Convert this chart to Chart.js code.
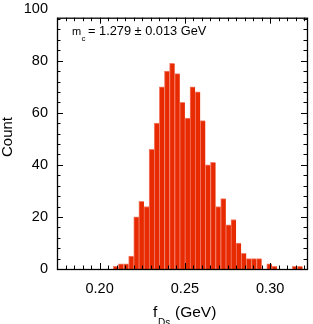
<!DOCTYPE html>
<html>
<head>
<meta charset="utf-8">
<script src="https://cdn.jsdelivr.net/npm/chart.js@4/dist/chart.umd.min.js"></script>
<style>
  html, body { margin: 0; padding: 0; background: #fff; }
  #chart { display: block; }
</style>
</head>
<body>
<canvas id="chart" width="313" height="324"></canvas>
<script>
// ═══════════════════════════════════════════════
//  DATA — histogram of f_Ds (1000 entries)
// ═══════════════════════════════════════════════

const BIN_CENTERS = [
  0.2095, 0.2125, 0.2155, 0.2185, 0.2215, 0.2245, 0.2275, 0.2305, 0.2335, 0.2365,
  0.2395, 0.2425, 0.2455, 0.2485, 0.2515, 0.2545, 0.2575, 0.2605, 0.2635, 0.2665,
  0.2695, 0.2725, 0.2755, 0.2785, 0.2815, 0.2845, 0.2875, 0.2905, 0.2935, 0.2965,
  0.2995, 0.3025, 0.3055, 0.3085, 0.3115, 0.3145, 0.3175
];

const COUNTS = [
  1, 2, 2, 5, 20, 26, 24, 46, 56, 70,
  76, 79, 75, 64, 58, 70, 68, 57, 40, 41,
  24, 27, 17, 19, 10, 6, 4, 4, 4, 0,
  2, 1, 0, 0, 0, 1, 1
];

const X_TICKS = [0.20, 0.25, 0.30];
const Y_TICKS = [0, 20, 40, 60, 80, 100];

const FIT_MASS  = '1.279';
const FIT_ERROR = '0.013';

// ═══════════════════════════════════════════════
//  PLUGINS — frame, inward ticks, labels
// ═══════════════════════════════════════════════

const FONT = '"Liberation Sans", Arial, Helvetica, sans-serif';

const frameTicks = {
  id: 'frameTicks',
  afterDatasetsDraw(chart) {
    const { ctx, chartArea: a, scales: { x, y } } = chart;
    ctx.save();
    ctx.strokeStyle = '#000';
    ctx.lineWidth = 1;
    ctx.beginPath();
    // x: minor every 0.005, major every 0.05
    for (let i = 35; i / 200 <= x.max + 1e-9; i++) {
      const px = Math.round(x.getPixelForValue(i / 200)) + 0.5;
      const len = i % 10 === 0 ? 6 : 3.5;
      ctx.moveTo(px, a.bottom); ctx.lineTo(px, a.bottom - len);
      ctx.moveTo(px, a.top);    ctx.lineTo(px, a.top + len);
    }
    // y: minor every 4, major every 20
    for (let j = 0; j * 4 <= y.max; j++) {
      const py = Math.round(y.getPixelForValue(j * 4)) + 0.5;
      const len = j % 5 === 0 ? 6 : 3.5;
      ctx.moveTo(a.left, py);  ctx.lineTo(a.left + len, py);
      ctx.moveTo(a.right, py); ctx.lineTo(a.right - len, py);
    }
    ctx.stroke();
    ctx.lineWidth = 1.3;
    ctx.strokeRect(a.left + 0.5, a.top + 0.5, a.right - a.left, a.bottom - a.top);
    ctx.restore();
  }
};

const textLabels = {
  id: 'textLabels',
  afterDraw(chart) {
    const { ctx } = chart;
    ctx.save();
    ctx.fillStyle = '#000';
    ctx.textBaseline = 'alphabetic';
    ctx.textAlign = 'left';

    // y title
    ctx.save();
    ctx.translate(12, 137);
    ctx.rotate(-Math.PI / 2);
    ctx.textAlign = 'center';
    ctx.font = `15px ${FONT}`;
    ctx.fillText('Count', 0, 0);
    ctx.restore();

    // x title: f_Ds (GeV)
    ctx.font = `15.5px ${FONT}`;
    ctx.fillText('f', 153, 316.5);
    ctx.font = `10px ${FONT}`;
    ctx.fillText('Ds', 158, 325.5);
    ctx.font = `15.5px ${FONT}`;
    ctx.fillText('(GeV)', 175, 316.5);

    // fit result
    ctx.font = `11px ${FONT}`;
    ctx.fillText('m', 72, 35);
    ctx.font = `8px ${FONT}`;
    ctx.fillText('c', 81.5, 40.5);
    ctx.font = `12.8px ${FONT}`;
    ctx.fillText(`= ${FIT_MASS} \u00b1 ${FIT_ERROR} GeV`, 88, 35);
    ctx.restore();
  }
};

// ═══════════════════════════════════════════════
//  CHART
// ═══════════════════════════════════════════════

new Chart(document.getElementById('chart'), {
  type: 'bar',
  data: {
    datasets: [{
      data: BIN_CENTERS.map((x, i) => ({ x, y: COUNTS[i] })),
      backgroundColor: '#e82a00',
      borderColor: 'rgba(240,105,80,0.85)',
      borderWidth: { top: 1, left: 1, right: 0, bottom: 0 },
      borderSkipped: false,
      barPercentage: 1,
      categoryPercentage: 1,
    }]
  },
  options: {
    responsive: false,
    animation: false,
    events: [],
    layout: { padding: { top: 15, right: 6, left: 0, bottom: 0 } },
    plugins: { legend: { display: false }, tooltip: { enabled: false } },
    scales: {
      x: {
        type: 'linear',
        min: 0.175,
        max: 0.3216,
        offset: false,
        afterFit: (s) => { s.height = 55; },
        afterBuildTicks: (s) => { s.ticks = X_TICKS.map(v => ({ value: v })); },
        grid: { display: false, drawTicks: false },
        border: { display: false },
        ticks: {
          color: '#000',
          font: { family: FONT, size: 14.5 },
          padding: 11,
          maxRotation: 0,
          autoSkip: false,
          callback: (v) => v.toFixed(2)
        }
      },
      y: {
        min: 0,
        max: 96.5,
        afterFit: (s) => { s.width = 57; },
        afterBuildTicks: (s) => { s.ticks = Y_TICKS.map(v => ({ value: v })); },
        grid: { display: false, drawTicks: false },
        border: { display: false },
        ticks: {
          color: '#000',
          font: { family: FONT, size: 14.5 },
          padding: 9,
          autoSkip: false,
          callback: (v) => String(v)
        }
      }
    }
  },
  plugins: [frameTicks, textLabels]
});
</script>
</body>
</html>
